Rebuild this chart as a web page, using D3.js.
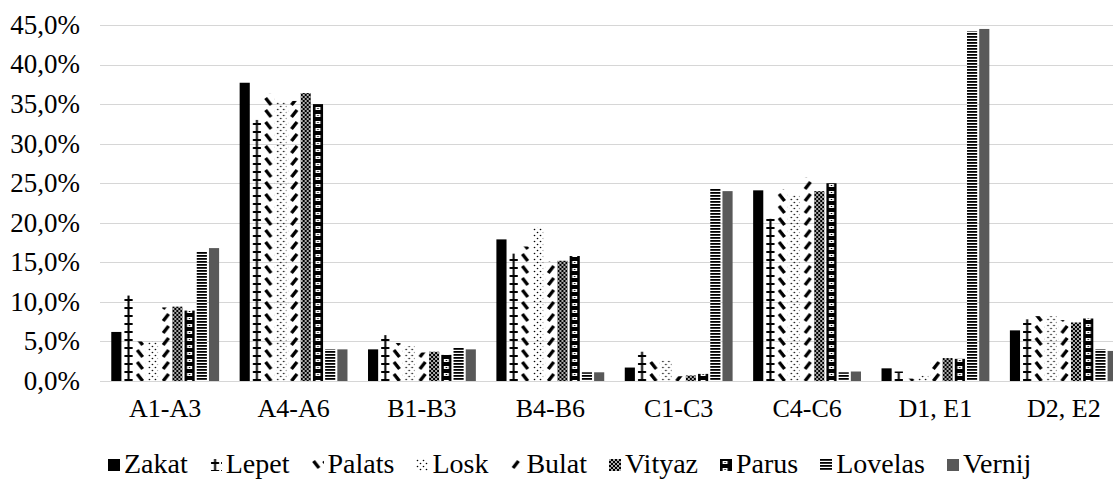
<!DOCTYPE html>
<html>
<head>
<meta charset="utf-8">
<style>
body { margin: 0; position: relative; width: 1113px; height: 479px; overflow: hidden; }
.legend {
    position: absolute; left: 108px; top: 449px;
    font-family: 'Liberation Serif';
    font-size: 28px; line-height: 30px; white-space: nowrap; color: #000;
}
.legend span.item { margin-right: 22px; }
.legend svg { vertical-align: 2px; margin-right: 4px; }
</style>
</head>
<body>
<script src="https://d3js.org/d3.v7.min.js"></script>
<script>
// data
var categories = ["A1-A3", "A4-A6", "B1-B3", "B4-B6", "C1-C3", "C4-C6", "D1, E1", "D2, E2"];
var seriesNames = ["Zakat", "Lepet", "Palats", "Losk", "Bulat", "Vityaz", "Parus", "Lovelas", "Vernij"];
var zakat   = [6.2, 37.7, 4.0, 17.9, 1.7, 24.1, 1.6, 6.4];
var lepet   = [10.8, 33.0, 5.8, 16.1, 3.7, 20.5, 1.2, 7.8];
var palats  = [5.0, 36.3, 4.8, 17.0, 2.5, 24.2, 0.3, 8.2];
var losk    = [5.0, 35.3, 4.4, 19.4, 2.6, 23.5, 0.7, 8.2];
var bulat   = [9.3, 35.4, 3.6, 15.1, 0.6, 25.7, 2.5, 7.7];
var vityaz  = [9.4, 36.4, 3.7, 15.2, 0.7, 24.0, 2.9, 7.4];
var parus   = [8.9, 35.0, 3.3, 15.8, 0.9, 25.0, 2.8, 7.9];
var lovelas = [16.4, 4.0, 4.2, 1.1, 24.3, 1.1, 44.2, 4.0];
var vernij  = [16.8, 4.0, 4.0, 1.1, 24.0, 1.2, 44.5, 3.8];
var yTicks  = [0, 5, 10, 15, 20, 25, 30, 35, 40, 45];

var values = [zakat, lepet, palats, losk, bulat, vityaz, parus, lovelas, vernij];
var serif = "'Liberation Serif'";

var width = 1113, height = 479;
var svg = d3.select("body").append("svg")
    .attr("width", width)
    .attr("height", height)
    .style("display", "block");

var x0 = d3.scaleBand()
    .domain(categories)
    .range([101, 1128])
    .paddingInner(0.16)
    .paddingOuter(0.08);
var x1 = d3.scaleBand()
    .domain(seriesNames)
    .range([0, x0.bandwidth()])
    .paddingInner(0.17);
var y = d3.scaleLinear()
    .domain([0, 45])
    .range([381, 25]);

var bw = x1.bandwidth();

// patterns
var defs = svg.append("defs");
function pat(id, w, h) {
    return defs.append("pattern").attr("id", id)
        .attr("patternUnits", "userSpaceOnUse")
        .attr("width", w).attr("height", h);
}
var p;
p = pat("p-Lepet", bw, 8);
p.append("rect").attr("x", bw / 2 - 1).attr("y", 0).attr("width", 2).attr("height", 8).attr("fill", "#000");
p.append("rect").attr("x", 1).attr("y", 3).attr("width", bw - 2).attr("height", 2).attr("fill", "#000");

p = pat("p-Palats", bw, 12);
p.append("line").attr("x1", 1.5).attr("y1", 2).attr("x2", 7).attr("y2", 9)
    .attr("stroke", "#000").attr("stroke-width", 3.4);

p = pat("p-Losk", 6, 6);
p.append("circle").attr("cx", 1.5).attr("cy", 1.5).attr("r", 0.8).attr("fill", "#000");
p.append("circle").attr("cx", 4.5).attr("cy", 4.5).attr("r", 0.8).attr("fill", "#000");

p = pat("p-Bulat", bw, 12);
p.append("line").attr("x1", 3).attr("y1", 9).attr("x2", 8.5).attr("y2", 2)
    .attr("stroke", "#000").attr("stroke-width", 3.4);

p = pat("p-Vityaz", 4, 4);
p.append("rect").attr("width", 4).attr("height", 4).attr("fill", "#000");
p.append("circle").attr("cx", 1).attr("cy", 1).attr("r", 0.9).attr("fill", "#fff");
p.append("circle").attr("cx", 3).attr("cy", 3).attr("r", 0.9).attr("fill", "#fff");

p = pat("p-Parus", bw, 7);
p.append("rect").attr("width", bw).attr("height", 7).attr("fill", "#000");
p.append("rect").attr("x", bw / 2 - 2.5).attr("y", 2).attr("width", 5).attr("height", 3).attr("fill", "#fff");
p.append("rect").attr("x", bw / 2 - 0.75).attr("y", 3).attr("width", 1.5).attr("height", 1).attr("fill", "#000");

p = pat("p-Lovelas", bw, 3);
p.append("rect").attr("width", bw).attr("height", 3).attr("fill", "#fff");
p.append("rect").attr("width", bw).attr("height", 1.8).attr("fill", "#000");

var fills = {
    Zakat: "#000",
    Lepet: "url(#p-Lepet)",
    Palats: "url(#p-Palats)",
    Losk: "url(#p-Losk)",
    Bulat: "url(#p-Bulat)",
    Vityaz: "url(#p-Vityaz)",
    Parus: "url(#p-Parus)",
    Lovelas: "url(#p-Lovelas)",
    Vernij: "#595959"
};

// grid
svg.append("g")
    .selectAll("line")
    .data(yTicks)
    .enter().append("line")
    .attr("x1", 100).attr("x2", width)
    .attr("y1", function(d) { return Math.round(y(d)) + 0.5; })
    .attr("y2", function(d) { return Math.round(y(d)) + 0.5; })
    .attr("stroke", "#d6d6d6")
    .attr("shape-rendering", "crispEdges");

// y labels
var fmt = d3.formatLocale({ decimal: ",", thousands: " ", grouping: [3], currency: ["", ""] });
var fmtPct = fmt.format(".1f");
svg.append("g")
    .selectAll("text")
    .data(yTicks)
    .enter().append("text")
    .attr("x", 80)
    .attr("y", function(d) { return y(d); })
    .attr("dy", "0.33em")
    .attr("text-anchor", "end")
    .attr("font-size", 27)
    .style("font-family", serif)
    .text(function(d) { return fmtPct(d) + "%"; });

// bars
var rows = [];
seriesNames.forEach(function(s, si) {
    categories.forEach(function(c, ci) {
        rows.push({ series: s, cat: c, value: values[si][ci] });
    });
});
svg.append("g")
    .selectAll("rect")
    .data(rows)
    .enter().append("rect")
    .attr("transform", function(d) { return "translate(" + (x0(d.cat) + x1(d.series)) + ",0)"; })
    .attr("x", 0)
    .attr("y", function(d) { return y(d.value); })
    .attr("width", bw)
    .attr("height", function(d) { return y(0) - y(d.value); })
    .attr("fill", function(d) { return fills[d.series]; });

// x labels
svg.append("g")
    .selectAll("text")
    .data(categories)
    .enter().append("text")
    .attr("x", function(d) { return x0(d) + x0.bandwidth() / 2; })
    .attr("y", 417)
    .attr("text-anchor", "middle")
    .attr("font-size", 26)
    .style("font-family", serif)
    .text(function(d) { return d; });

// legend as html row under the chart
var item = d3.select("body").append("div").attr("class", "legend")
    .selectAll("span")
    .data(seriesNames)
    .enter().append("span").attr("class", "item");
item.append("svg")
    .attr("width", 12).attr("height", 12)
    .append("rect")
    .attr("width", 12).attr("height", 12)
    .attr("fill", function(d) { return fills[d]; });
item.append("span").text(function(d) { return d; });
</script>
</body>
</html>
